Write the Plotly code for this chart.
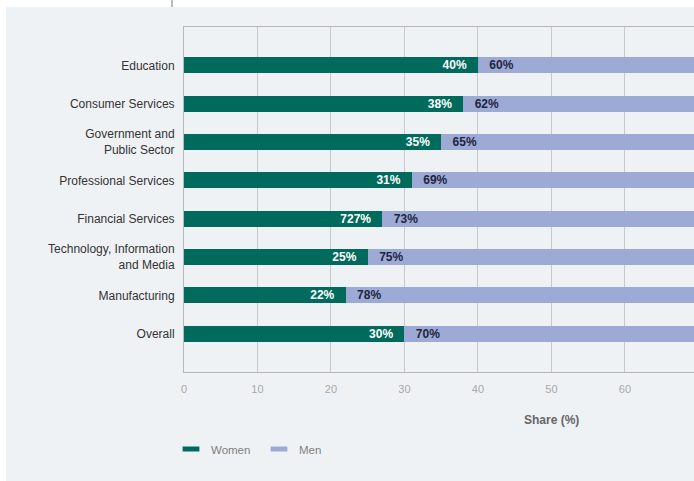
import plotly.graph_objects as go

categories = ["Education", "Consumer Services", "Government and<br>Public Sector",
              "Professional Services", "Financial Services",
              "Technology, Information<br>and Media", "Manufacturing", "Overall"]
women = [40, 38, 35, 31, 27, 25, 22, 30]
men = [60, 62, 65, 69, 73, 75, 78, 70]
women_labels = ["40%", "38%", "35%", "31%", "727%", "25%", "22%", "30%"]
men_labels = ["60%", "62%", "65%", "69%", "73%", "75%", "78%", "70%"]
x_ticks = [0, 10, 20, 30, 40, 50, 60, 70]

W, H = 694, 481
L, R, T, B = 184, 0, 27, 109
pw, ph = W - L - R, H - T - B

def px(xp):
    return (xp - L) / pw

def py(yp):
    return (H - B - yp) / ph

FONT = "Liberation Sans, Arial, Helvetica, sans-serif"
GREEN = "#006b5c"
BLUE = "#9daad6"
BG = "#eff2f5"

fig = go.Figure()
fig.add_trace(go.Bar(
    y=categories, x=women, name="Women", orientation="h", showlegend=False,
    marker=dict(color=GREEN, line=dict(width=0)), width=0.42,
    text=women_labels, texttemplate="%{text}\u2002\u2009",
    textposition="inside", insidetextanchor="end", constraintext="none",
    textfont=dict(color="white", size=12, family=FONT, weight="bold"),
))
fig.add_trace(go.Bar(
    y=categories, x=men, name="Men", orientation="h", showlegend=False,
    marker=dict(color=BLUE, line=dict(width=0)), width=0.42,
    text=men_labels, texttemplate="\u2009\u2002%{text}",
    textposition="inside", insidetextanchor="start", constraintext="none",
    textfont=dict(color="#1d2540", size=12, family=FONT, weight="bold"),
))
# legend entries (rectangular swatches)
for name, col in [("Women", GREEN), ("Men", BLUE)]:
    fig.add_trace(go.Scatter(
        x=[None], y=[None], mode="markers", name=name,
        marker=dict(symbol="line-ew", size=12, color=col, line=dict(color=col, width=6)),
    ))

fig.update_layout(
    width=W, height=H, barmode="stack",
    margin=dict(l=L, r=R, t=T, b=B, pad=0),
    paper_bgcolor="white", plot_bgcolor="rgba(0,0,0,0)",
    font=dict(family=FONT, size=12, color="#333333"),
    showlegend=True,
    legend=dict(orientation="h", x=px(171), xanchor="left", y=py(449), yanchor="middle",
                font=dict(size=11.5, color="#808080", family=FONT),
                entrywidth=43, entrywidthmode="pixels", traceorder="normal",
                bgcolor="rgba(0,0,0,0)"),
)
fig.update_xaxes(range=[0, 69.4], tickvals=x_ticks, showgrid=True, gridcolor="#c8c8c8",
                 gridwidth=1, showline=True, linecolor="#b8b8b8", linewidth=1, mirror=True,
                 ticks="outside", ticklen=7, tickcolor="rgba(0,0,0,0)",
                 tickfont=dict(size=11, color="#a8a8a8", family=FONT),
                 zeroline=False, fixedrange=True)
fig.update_yaxes(categoryorder="array", categoryarray=categories, range=[8, -1],
                 showgrid=False, showline=True, linecolor="#b8b8b8", linewidth=1,
                 ticks="outside", ticklen=6, tickcolor="rgba(0,0,0,0)",
                 tickfont=dict(size=12, color="#333333", family=FONT), fixedrange=True)

fig.add_shape(type="rect", xref="paper", yref="paper", x0=px(6), x1=1.2, y0=-0.5, y1=py(7),
              fillcolor=BG, line=dict(width=0), layer="below")
fig.add_shape(type="line", xref="paper", yref="paper", x0=px(172), x1=px(172), y0=py(0), y1=py(7),
              line=dict(color="#777777", width=1))
fig.add_annotation(text="<b>Share (%)</b>", x=50, xref="x", y=py(420), yref="paper",
                   showarrow=False, font=dict(size=12, color="#666666", family=FONT),
                   xanchor="center", yanchor="middle")

fig.write_html("out.html")
